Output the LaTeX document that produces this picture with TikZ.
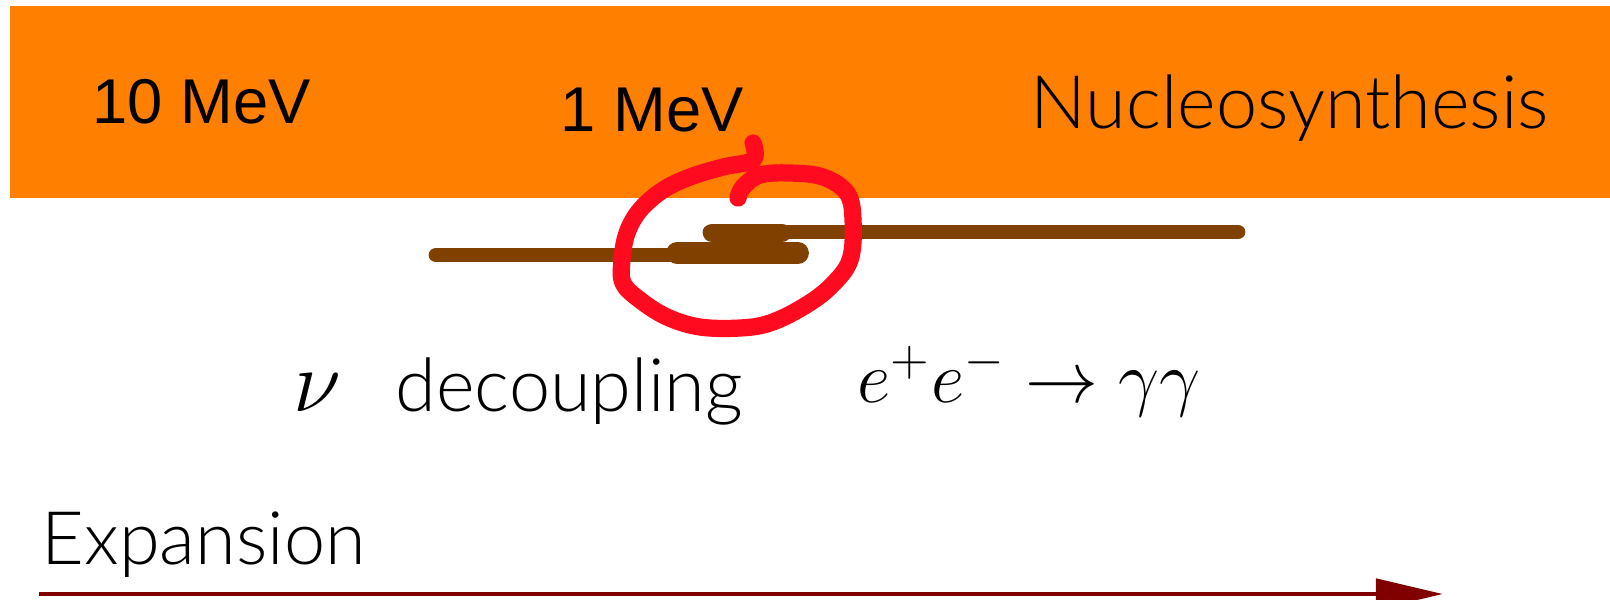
\documentclass[tikz,border=0pt]{standalone}
\usepackage{fontspec}
\setmainfont{Liberation Sans}
\newfontfamily\labelfont{Liberation Sans}
\newfontfamily\handfont{Lato Light}
\usepackage{tikz}
\usetikzlibrary{positioning, arrows.meta}
\definecolor{bandOrange}{HTML}{FF8000}
\definecolor{eraBrown}{HTML}{804000}
\definecolor{ringRed}{HTML}{FF0A1E}
\definecolor{axisRed}{HTML}{800000}

\begin{document}
\begin{tikzpicture}[x=0.01cm, y=-0.01cm,
      energy/.style={anchor=base west, inner sep=0pt, text=black, font=\labelfont\fontsize{18}{22}\selectfont},
      hand/.style={anchor=base west, inner sep=0pt, text=black, font=\handfont\fontsize{21}{25}\selectfont},
      formula/.style={anchor=base west, inner sep=0pt, text=black, font=\fontsize{22}{26}\selectfont},
      era/.style={line cap=round, line width=4.2pt, eraBrown},
      blob/.style={line cap=round, line width=6.2pt, eraBrown},
      ring/.style={line cap=round, line join=round, line width=4.9pt, ringRed},
      arrow/.style={-{Triangle[length=0.67cm,width=0.3cm]}, line width=1.4pt, axisRed}]
      \useasboundingbox (0,0) rectangle (1610,599);
      % temperature band
      \fill[bandOrange] (10,6) rectangle (1610,198);
      \node[energy] (tenmev) at (92,123) {10 MeV};
      \node[energy] (onemev) at (560,131) {1 MeV};
      \node[hand] (nucleo) at (1030,128) {Nucleosynthesis};
      % overlapping epochs
      \coordinate (nuStart) at (436,255);
      \coordinate (nuEnd) at (677,255);
      \coordinate (annStart) at (710,232);
      \coordinate (annEnd) at (1238,232);
      \draw[era] (nuStart) -- (nuEnd);
      \draw[era] (annStart) -- (annEnd);
      \draw[blob] (677,253) -- (798,253);
      \draw[blob, line width=5.2pt] (712,233) -- (782,233);
      % hand-drawn mark
      \draw[ring] plot[smooth, tension=0.6] coordinates {(753,143) (753,160) (723,167) (690,177)
        (663,190) (640,210) (627,233) (622,260) (623,283) (640,300) (667,317) (700,327)
        (740,328) (770,323) (803,307) (830,287) (850,260) (853,220) (847,193) (823,177)
        (790,173) (760,175) (743,187) (738,198)};
      \node[formula, font=\fontsize{24}{28}\selectfont] (nu) at (293,411) {$\nu$};
      \node[hand] (decoup) at (395,411) {decoupling};
      \node[formula] (annih) at (857,402) {$e^+e^-\to\gamma\gamma$};
      % time axis
      \node[hand] (expansion) at (41,564) {Expansion};
      \coordinate (axStart) at (39,594);
      \coordinate (axEnd) at (1443,594);
      \draw[arrow] (axStart) -- (axEnd);
\end{tikzpicture}
\end{document}
